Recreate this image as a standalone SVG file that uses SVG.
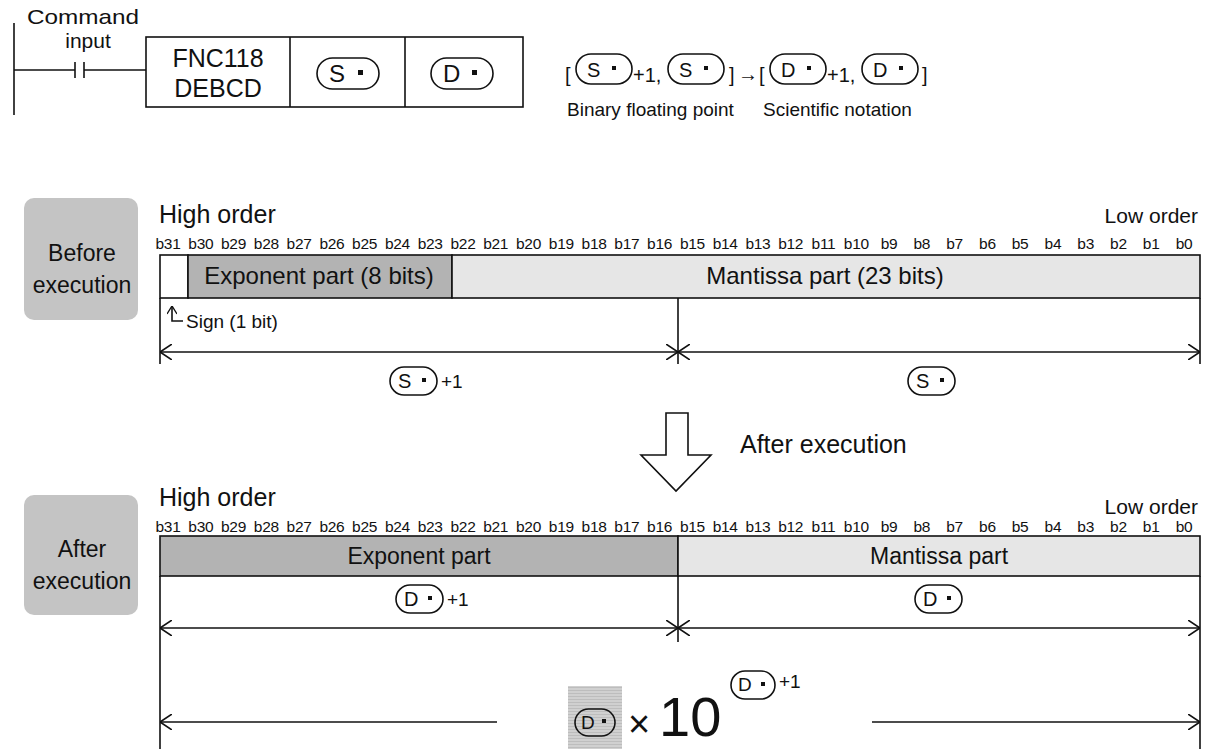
<svg xmlns="http://www.w3.org/2000/svg" width="1207" height="749" viewBox="0 0 1207 749">
<style>
text{font-family:"Liberation Sans",Arial,sans-serif;fill:#111}
.t19{font-size:19px}
.t20{font-size:20px}
.t21{font-size:21px}
.t23{font-size:23px}
.t24{font-size:24px}
.t25{font-size:25px}
.bits{font-size:15.5px;text-anchor:middle;letter-spacing:-0.3px}
.mid{text-anchor:middle}
.end{text-anchor:end}
.ln{stroke:#111;stroke-width:1.6;fill:none}
.pill{fill:none;stroke:#111;stroke-width:1.6}
.side{fill:#c4c4c4}
.dark{fill:#b3b3b3;stroke:#111;stroke-width:1.6}
.light{fill:#e6e6e6;stroke:#111;stroke-width:1.6}
.dim{stroke:#111;stroke-width:1.6;fill:none;marker-start:url(#ah);marker-end:url(#ah)}
</style>
<defs>
<marker id="ah" viewBox="0 0 12 16" refX="12" refY="8" markerWidth="12" markerHeight="16" markerUnits="userSpaceOnUse" orient="auto-start-reverse">
<path d="M0,0 L12,8 L0,16" fill="none" stroke="#111" stroke-width="1.6"/>
</marker>
<marker id="up" viewBox="0 0 10 10" refX="5" refY="0" markerWidth="10" markerHeight="10" markerUnits="userSpaceOnUse" orient="0">
<path d="M0,8 L5,0 L10,8" fill="none" stroke="#111" stroke-width="1.4"/>
</marker>
<pattern id="scan" width="4" height="3" patternUnits="userSpaceOnUse">
<rect width="4" height="3" fill="#d0d0d0"/>
<rect width="4" height="1" fill="#bdbdbd"/>
</pattern>
</defs>

<!-- Ladder -->
<g id="ladder">
<line class="ln" x1="14" y1="23" x2="14" y2="115"/>
<line class="ln" x1="14" y1="70" x2="75" y2="70"/>
<line class="ln" x1="75" y1="62" x2="75" y2="78"/>
<line class="ln" x1="84" y1="62" x2="84" y2="78"/>
<line class="ln" x1="84" y1="70" x2="146" y2="70"/>
<text class="t21" x="27" y="24" textLength="112" lengthAdjust="spacingAndGlyphs">Command</text>
<text class="t21 mid" x="88" y="48">input</text>
</g>
<g id="instr">
<rect class="ln" x="146" y="37" width="377" height="70"/>
<line class="ln" x1="290" y1="37" x2="290" y2="107"/>
<line class="ln" x1="405" y1="37" x2="405" y2="107"/>
<text class="t25 mid" x="218" y="67">FNC118</text>
<text class="t25 mid" x="218" y="97">DEBCD</text>
<rect class="pill" x="317" y="58" width="62" height="31" rx="15.5"/>
<text class="t24" x="329" y="82">S</text><rect x="358" y="70" width="5" height="5" fill="#111"/>
<rect class="pill" x="431" y="58" width="62" height="31" rx="15.5"/>
<text class="t24" x="443" y="82">D</text><rect x="472" y="70" width="5" height="5" fill="#111"/>
</g>

<!-- Formula -->
<g id="formula">
<text class="t20" x="565" y="82">[</text>
<rect class="pill" x="576" y="54" width="56" height="30" rx="15"/>
<text class="t20" x="587" y="77">S</text><rect x="612" y="66" width="4" height="4" fill="#111"/>
<text class="t20" x="633" y="82">+1,</text>
<rect class="pill" x="668" y="54" width="56" height="30" rx="15"/>
<text class="t20" x="679" y="77">S</text><rect x="704" y="66" width="4" height="4" fill="#111"/>
<text class="t20" x="729" y="82">]</text>
<text class="t20" x="738" y="81">→</text>
<text class="t20" x="759" y="82">[</text>
<rect class="pill" x="770" y="54" width="56" height="30" rx="15"/>
<text class="t20" x="781" y="77">D</text><rect x="807" y="66" width="4" height="4" fill="#111"/>
<text class="t20" x="827" y="82">+1,</text>
<rect class="pill" x="862" y="54" width="56" height="30" rx="15"/>
<text class="t20" x="873" y="77">D</text><rect x="899" y="66" width="4" height="4" fill="#111"/>
<text class="t20" x="922" y="82">]</text>
<text class="t19" x="567" y="116">Binary floating point</text>
<text class="t19" x="763" y="116">Scientific notation</text>
</g>

<!-- Before execution -->
<g id="before-label">
<rect class="side" x="24" y="198" width="114" height="122" rx="10"/>
<text class="t23 mid" x="82" y="261">Before</text>
<text class="t23 mid" x="82" y="293">execution</text>
</g>
<g id="before-register">
<text class="t25" x="159" y="223">High order</text>
<text class="t21 end" x="1198" y="223">Low order</text>
<g class="bits">
<text x="168" y="249">b31</text><text x="200.8" y="249">b30</text><text x="233.5" y="249">b29</text><text x="266.3" y="249">b28</text>
<text x="299.1" y="249">b27</text><text x="331.9" y="249">b26</text><text x="364.6" y="249">b25</text><text x="397.4" y="249">b24</text>
<text x="430.2" y="249">b23</text><text x="463" y="249">b22</text><text x="495.7" y="249">b21</text><text x="528.5" y="249">b20</text>
<text x="561.3" y="249">b19</text><text x="594.1" y="249">b18</text><text x="626.8" y="249">b17</text><text x="659.6" y="249">b16</text>
<text x="692.4" y="249">b15</text><text x="725.2" y="249">b14</text><text x="757.9" y="249">b13</text><text x="790.7" y="249">b12</text>
<text x="823.5" y="249">b11</text><text x="856.3" y="249">b10</text><text x="889" y="249">b9</text><text x="921.8" y="249">b8</text>
<text x="954.6" y="249">b7</text><text x="987.4" y="249">b6</text><text x="1020.1" y="249">b5</text><text x="1052.9" y="249">b4</text>
<text x="1085.7" y="249">b3</text><text x="1118.4" y="249">b2</text><text x="1151.2" y="249">b1</text><text x="1184" y="249">b0</text>
</g>
<rect x="160" y="255" width="28" height="43" fill="#fff" stroke="#111" stroke-width="1.6"/>
<rect class="dark" x="188" y="255" width="264" height="43"/>
<rect class="light" x="452" y="255" width="748" height="43"/>
<text class="t24 mid" x="319" y="284">Exponent part (8 bits)</text>
<text class="t24 mid" x="825" y="284">Mantissa part (23 bits)</text>
<line class="ln" x1="160" y1="298" x2="160" y2="364"/>
<line class="ln" x1="678" y1="298" x2="678" y2="364"/>
<line class="ln" x1="1200" y1="298" x2="1200" y2="364"/>
<polyline class="ln" points="172,306 172,321 183,321" marker-start="url(#up)"/>
<text class="t19" x="186" y="328">Sign (1 bit)</text>
<rect class="pill" x="390" y="367" width="47" height="28" rx="14"/>
<text class="t20" x="398" y="388">S</text><rect x="422" y="378" width="4" height="4" fill="#111"/>
<text class="t19" x="441" y="388">+1</text>
<rect class="pill" x="908" y="367" width="47" height="28" rx="14"/>
<text class="t20" x="916" y="388">S</text><rect x="940" y="378" width="4" height="4" fill="#111"/>
</g>

<!-- Transition -->
<g id="transition">
<path d="M666,413 H688 V455 H711 L676,491 L641,455 H666 Z" fill="#fff" stroke="#111" stroke-width="1.6"/>
<text class="t25" x="740" y="453">After execution</text>
</g>

<!-- After execution -->
<g id="after-label">
<rect class="side" x="24" y="495" width="114" height="120" rx="10"/>
<text class="t23 mid" x="82" y="557">After</text>
<text class="t23 mid" x="82" y="589">execution</text>
</g>
<g id="after-register">
<text class="t25" x="159" y="506">High order</text>
<text class="t21 end" x="1198" y="514">Low order</text>
<g class="bits">
<text x="168" y="532">b31</text><text x="200.8" y="532">b30</text><text x="233.5" y="532">b29</text><text x="266.3" y="532">b28</text>
<text x="299.1" y="532">b27</text><text x="331.9" y="532">b26</text><text x="364.6" y="532">b25</text><text x="397.4" y="532">b24</text>
<text x="430.2" y="532">b23</text><text x="463" y="532">b22</text><text x="495.7" y="532">b21</text><text x="528.5" y="532">b20</text>
<text x="561.3" y="532">b19</text><text x="594.1" y="532">b18</text><text x="626.8" y="532">b17</text><text x="659.6" y="532">b16</text>
<text x="692.4" y="532">b15</text><text x="725.2" y="532">b14</text><text x="757.9" y="532">b13</text><text x="790.7" y="532">b12</text>
<text x="823.5" y="532">b11</text><text x="856.3" y="532">b10</text><text x="889" y="532">b9</text><text x="921.8" y="532">b8</text>
<text x="954.6" y="532">b7</text><text x="987.4" y="532">b6</text><text x="1020.1" y="532">b5</text><text x="1052.9" y="532">b4</text>
<text x="1085.7" y="532">b3</text><text x="1118.4" y="532">b2</text><text x="1151.2" y="532">b1</text><text x="1184" y="532">b0</text>
</g>
<rect class="dark" x="160" y="536" width="518" height="40"/>
<rect class="light" x="678" y="536" width="522" height="40"/>
<text class="t23 mid" x="419" y="564">Exponent part</text>
<text class="t23 mid" x="939" y="564">Mantissa part</text>
<line class="ln" x1="160" y1="576" x2="160" y2="749"/>
<line class="ln" x1="1200" y1="576" x2="1200" y2="749"/>
<line class="ln" x1="678" y1="576" x2="678" y2="642"/>
<rect class="pill" x="396" y="585" width="47" height="28" rx="14"/>
<text class="t20" x="404" y="606">D</text><rect x="428" y="596" width="4" height="4" fill="#111"/>
<text class="t19" x="447" y="606">+1</text>
<rect class="pill" x="915" y="585" width="47" height="28" rx="14"/>
<text class="t20" x="923" y="606">D</text><rect x="947" y="596" width="4" height="4" fill="#111"/>
<rect x="568" y="686" width="54" height="63" fill="url(#scan)"/>
<rect class="pill" x="575" y="709" width="40" height="27" rx="13.5"/>
<text class="t19" x="581" y="729">D</text><rect x="602" y="719" width="4" height="4" fill="#111"/>
<text x="628" y="737" style="font-size:38px">×</text>
<text x="659" y="736" style="font-size:56px">10</text>
<rect class="pill" x="731" y="671" width="44" height="28" rx="14"/>
<text class="t19" x="738" y="691">D</text><rect x="761" y="682" width="4" height="4" fill="#111"/>
<text class="t19" x="779" y="688">+1</text>
</g>

<!-- Connectors -->
<g id="connectors">
<line class="dim" x1="160" y1="352" x2="678" y2="352"/>
<line class="dim" x1="678" y1="352" x2="1200" y2="352"/>
<line class="dim" x1="160" y1="628" x2="678" y2="628"/>
<line class="dim" x1="678" y1="628" x2="1200" y2="628"/>
<line class="ln" x1="160" y1="722" x2="497" y2="722" marker-start="url(#ah)"/>
<line class="ln" x1="872" y1="722" x2="1200" y2="722" marker-end="url(#ah)"/>
</g>
</svg>
